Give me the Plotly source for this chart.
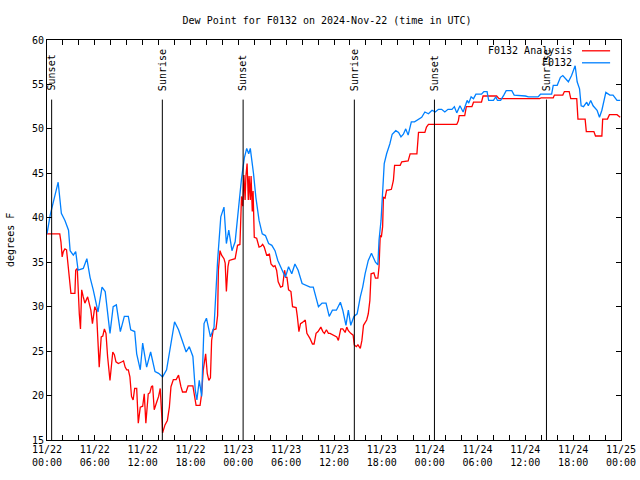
import pandas as pd
import plotly.graph_objects as go

BASE = "2024-11-22 00:00"

# Observed dew point (F0132), hours since 2024-11-22 00:00 UTC
obs_hours = [0.0, 0.4, 0.8, 1.4, 1.8, 2.25, 2.7, 2.9, 3.3, 3.6, 3.9, 4.55, 5.0, 5.4, 5.8, 6.4, 6.9, 7.3,
             7.9, 8.3, 8.7, 9.2, 9.7, 10.2, 10.5, 11.0, 11.25, 11.7, 12.0, 12.5, 13.0, 13.55, 14.0, 14.5,
             15.0, 15.5, 16.0, 16.5, 17.0, 17.45, 17.85, 18.3, 18.6, 18.8, 19.1, 19.4, 19.7, 20.0, 20.5,
             20.95, 21.4, 21.8, 22.2, 22.5, 22.8, 23.2, 23.6, 24.0, 24.4, 24.75, 25.05, 25.3, 25.5, 25.9,
             26.2, 26.6, 27.0, 27.4, 27.8, 28.2, 28.6, 28.95, 29.45, 29.9, 30.3, 30.7, 31.1, 31.5, 32.0,
             32.5, 33.0, 33.4, 33.8, 34.05, 34.5, 35.0, 35.4, 35.8, 36.3, 36.8, 37.1, 37.5, 37.8, 38.1,
             38.5, 38.9, 39.3, 39.6, 39.9, 40.3, 40.7, 41.2, 41.5, 41.65, 41.9, 42.1, 42.3, 42.6, 43.0,
             43.3, 43.75, 44.1, 44.4, 44.7, 45.0, 45.3, 45.7, 46.1, 46.6, 47.0, 47.4, 47.85, 48.3, 48.7,
             49.1, 49.5, 49.9, 50.3, 50.8, 51.1, 51.4, 51.8, 52.2, 52.7, 52.9, 53.2, 53.5, 53.8, 54.5,
             54.8, 55.2, 55.4, 56.0, 56.3, 56.5, 56.9, 57.3, 57.6, 58.3, 58.6, 60.0, 60.4, 61.6, 61.9,
             63.3, 63.5, 64.0, 64.4, 64.7, 65.1, 65.4, 65.8, 66.1, 66.25, 66.5, 66.8, 67.0, 67.3, 67.7,
             67.9, 68.2, 68.5, 69.0, 69.3, 69.6, 70.1, 70.6, 71.0, 71.5, 71.9]
obs_values = [38.2, 40.3, 41.8, 44.0, 40.5, 39.7, 38.6, 36.3, 35.8, 36.2, 34.1, 34.3, 35.4, 33.3, 31.9, 29.4,
              32.2, 31.7, 27.0, 30.0, 30.2, 27.2, 28.9, 28.9, 27.4, 27.2, 24.7, 22.9, 25.9, 23.2, 24.9,
              22.7, 22.5, 22.1, 22.9, 25.5, 28.3, 27.4, 26.2, 24.9, 25.5, 24.4, 20.6, 19.5, 21.7, 19.9,
              28.1, 28.7, 26.6, 27.7, 35.2, 40.1, 41.2, 37.1, 38.6, 36.3, 37.3, 41.0, 44.4, 46.7, 47.8,
              47.2, 47.8, 45.0, 42.3, 39.7, 38.2, 38.0, 37.1, 36.9, 36.3, 35.2, 34.1, 33.3, 34.5, 33.7,
              34.8, 34.1, 32.6, 32.4, 32.2, 32.2, 30.7, 30.0, 30.4, 30.4, 28.9, 29.6, 29.6, 30.5, 29.6,
              27.9, 29.6, 27.9, 28.9, 29.2, 31.1, 32.2, 33.7, 35.2, 36.0, 35.0, 34.7, 37.5, 39.7, 43.1,
              46.1, 47.2, 48.3, 49.4, 49.8, 49.6, 49.1, 49.4, 50.0, 49.3, 50.8, 50.8, 51.1, 51.3, 51.9,
              51.7, 52.1, 51.9, 52.2, 52.2, 51.9, 52.2, 52.2, 52.5, 51.8, 52.6, 51.9, 53.2, 52.9, 53.6,
              53.4, 53.9, 53.9, 54.2, 54.2, 53.2, 53.2, 53.6, 53.2, 53.2, 53.8, 54.3, 54.3, 53.8, 53.7,
              53.6, 53.6, 53.9, 53.9, 54.9, 54.9, 55.8, 56.0, 55.6, 55.3, 56.0, 56.8, 57.1, 55.3, 54.5,
              52.6, 52.5, 53.0, 52.6, 53.2, 52.6, 52.1, 51.3, 52.1, 54.1, 53.8, 53.8, 53.2, 53.2]

# Analysis dew point (F0132 Analysis)
ana_hours = [0.0, 1.6, 1.75, 1.9, 2.05, 2.25, 2.45, 2.6, 2.75, 2.9, 3.0, 3.5, 3.6, 3.8, 3.9, 4.05, 4.2,
             4.35, 4.55, 4.75, 5.1, 5.3, 5.5, 5.7, 6.0, 6.2, 6.45, 6.55, 6.8, 7.0, 7.2, 7.4, 7.6, 7.9,
             8.25, 8.45, 8.65, 8.95, 9.4, 9.6, 9.8, 10.0, 10.2, 10.4, 10.6, 10.8, 11.0, 11.25, 11.45,
             11.7, 12.0, 12.2, 12.4, 12.7, 12.9, 13.1, 13.25, 13.45, 13.7, 14.0, 14.2, 14.35, 14.45,
             14.5, 14.8, 15.1, 15.35, 15.55, 15.85, 16.2, 16.5, 16.8, 17.0, 17.45, 17.7, 18.3, 18.5,
             18.7, 19.2, 19.4, 19.6, 19.9, 20.1, 20.3, 20.5, 20.65, 20.85, 21.2, 21.4, 21.5, 21.7, 21.9,
             22.2, 22.35, 22.5, 22.7, 22.85, 23.6, 23.9, 24.2, 24.4, 24.55, 24.7, 24.85, 24.95, 25.1,
             25.25, 25.35, 25.5, 25.6, 25.75, 25.85, 26.0, 26.3, 26.6, 26.85, 27.05, 27.25, 27.55,
             27.9, 28.1, 28.4, 28.6, 28.8, 29.0, 29.3, 29.55, 29.8, 29.95, 30.1, 30.3, 30.6, 30.8,
             31.25, 31.4, 31.6, 31.8, 32.0, 32.4, 32.6, 33.0, 33.3, 33.5, 33.75, 34.0, 34.35, 34.6,
             34.8, 35.05, 35.3, 35.5, 35.9, 36.35, 36.55, 36.85, 37.1, 37.4, 37.6, 37.8, 38.1, 38.4,
             38.55, 38.8, 39.0, 39.3, 39.5, 39.7, 40.1, 40.3, 40.5, 40.65, 41.0, 41.2, 41.5, 41.65,
             41.8, 41.95, 42.1, 42.2, 42.4, 42.6, 42.8, 43.2, 43.45, 43.6, 44.3, 44.5, 45.3, 45.55,
             46.4, 46.6, 47.4, 47.6, 47.85, 51.4, 51.6, 51.7, 52.4, 52.6, 53.3, 53.5, 54.5, 54.7, 55.6,
             56.4, 56.7, 60.0, 61.8, 62.0, 63.5, 63.65, 64.7, 64.9, 65.5, 65.7, 66.45, 66.6, 67.5,
             67.65, 68.6, 68.8, 69.6, 69.7, 70.3, 70.55, 71.5, 71.9]
ana_values = [38.2, 38.2, 37.3, 35.6, 36.2, 36.5, 36.4, 35.2, 34.1, 32.2, 31.5, 31.5, 34.1, 34.3, 31.1,
              29.2, 27.5, 31.9, 31.1, 30.4, 31.1, 30.4, 29.6, 28.1, 30.0, 29.6, 24.7, 23.2, 26.6, 26.7,
              27.5, 27.0, 24.4, 21.7, 24.9, 24.6, 23.8, 23.6, 23.8, 23.9, 23.2, 22.9, 22.9, 22.1, 19.9,
              19.5, 20.8, 20.8, 16.9, 18.7, 18.8, 20.2, 16.9, 20.2, 20.3, 21.0, 21.1, 18.4, 19.1, 19.9,
              20.8, 19.1, 16.9, 15.8, 16.7, 17.2, 18.7, 21.0, 21.8, 21.8, 22.3, 21.0, 20.4, 20.4, 21.1,
              21.1, 20.1, 18.9, 18.9, 20.2, 22.9, 24.7, 22.5, 21.7, 22.0, 26.2, 27.4, 27.5, 29.0, 34.1,
              36.3, 35.8, 35.4, 34.9, 31.7, 34.5, 35.2, 35.4, 36.9, 37.0, 42.4, 41.3, 44.8, 42.0, 44.7,
              46.1, 42.0, 44.7, 42.0, 44.7, 40.7, 43.0, 37.8, 37.7, 36.7, 36.8, 37.0, 36.7, 35.8, 35.9,
              34.8, 34.5, 34.6, 34.1, 32.8, 32.2, 32.3, 34.1, 33.3, 33.3, 31.9, 31.7, 30.0, 29.9, 28.9,
              27.2, 28.1, 28.2, 28.5, 27.0, 26.4, 25.8, 25.8, 27.0, 27.2, 27.7, 27.2, 27.0, 27.4, 27.0,
              27.0, 26.8, 26.6, 26.2, 27.5, 27.5, 27.1, 27.7, 27.3, 27.0, 26.8, 25.7, 25.5, 25.7, 25.3,
              26.2, 27.9, 28.5, 29.2, 30.7, 33.7, 33.8, 33.2, 33.2, 34.5, 38.0, 37.9, 39.0, 42.3, 42.2,
              43.1, 43.1, 43.2, 44.2, 45.9, 45.9, 46.3, 46.4, 47.2, 47.2, 49.6, 49.6, 50.2, 50.5, 50.5,
              50.9, 51.5, 51.5, 52.5, 52.5, 53.0, 53.0, 53.7, 53.7, 53.7, 53.4, 53.4, 53.4, 53.5, 53.5,
              53.8, 53.8, 54.2, 54.2, 53.4, 53.4, 51.1, 51.1, 49.7, 49.7, 49.2, 49.2, 51.1, 51.1, 51.6,
              51.6, 51.3]

# Sunrise / sunset events (UTC)
event_times = ["2024-11-22 00:35", "2024-11-22 14:28", "2024-11-23 00:36",
               "2024-11-23 14:33", "2024-11-24 00:36", "2024-11-24 14:39"]
event_labels = ["Sunset", "Sunrise", "Sunset", "Sunrise", "Sunset", "Sunrise"]

# x ticks every 2 h, labelled every 6 h
x_tick_hours = list(range(0, 73, 2))
y_ticks = [15, 20, 25, 30, 35, 40, 45, 50, 55, 60]

base = pd.Timestamp(BASE)
obs_t = base + pd.to_timedelta(obs_hours, unit="h")
ana_t = base + pd.to_timedelta(ana_hours, unit="h")
x_tickvals = [base + pd.Timedelta(hours=h) for h in x_tick_hours]
x_ticktext = [(t.strftime("%m/%d<br>%H:%M") if h % 6 == 0 else "") for h, t in zip(x_tick_hours, x_tickvals)]

FONT = "DejaVu Sans Mono"
RED = "#ff0000"
BLUE = "#0080ff"

fig = go.Figure()
fig.add_trace(go.Scatter(x=ana_t, y=ana_values, mode="lines", name="F0132 Analysis",
                         line=dict(color=RED, width=1.3)))
fig.add_trace(go.Scatter(x=obs_t, y=obs_values, mode="lines", name="F0132",
                         line=dict(color=BLUE, width=1.3)))

shapes = []
annotations = []
for t, lab in zip(event_times, event_labels):
    shapes.append(dict(type="line", xref="x", yref="paper", x0=t, x1=t, y0=0, y1=0.851,
                       line=dict(color="black", width=1)))
    annotations.append(dict(x=t, y=0.868, xref="x", yref="paper", text=lab, showarrow=False,
                            textangle=-90, xanchor="center", yanchor="bottom",
                            font=dict(family=FONT, size=10, color="black")))

# legend (gnuplot-style, top right inside)
leg_rows = [("F0132 Analysis", RED, 0.973), ("F0132", BLUE, 0.943)]
for text, col, yy in leg_rows:
    annotations.append(dict(x=0.918, y=yy, xref="paper", yref="paper", text=text, showarrow=False,
                            xanchor="right", yanchor="middle",
                            font=dict(family=FONT, size=10, color="black")))
    shapes.append(dict(type="line", xref="paper", yref="paper", x0=0.932, x1=0.981, y0=yy, y1=yy,
                       line=dict(color=col, width=1.3)))

annotations.append(dict(x=-0.0645, y=0.5, xref="paper", yref="paper", text="degrees F",
                        showarrow=False, textangle=-90, xanchor="center", yanchor="middle",
                        font=dict(family=FONT, size=10, color="black")))

fig.update_layout(
    width=640, height=480,
    margin=dict(l=47, r=19, t=40, b=40, autoexpand=False),
    paper_bgcolor="white", plot_bgcolor="white",
    showlegend=False,
    font=dict(family=FONT, size=10, color="black"),
    title=dict(text="Dew Point for F0132 on 2024-Nov-22 (time in UTC)", x=0.511, xref="container",
               xanchor="center", y=0.958, yanchor="middle", yref="container",
               font=dict(family=FONT, size=10, color="black")),
    shapes=shapes, annotations=annotations,
)
fig.update_xaxes(
    range=[base, base + pd.Timedelta(hours=72)],
    tickmode="array", tickvals=x_tickvals, ticktext=x_ticktext,
    ticks="inside", ticklen=5, tickcolor="black", tickwidth=1,
    showline=True, linecolor="black", linewidth=1, mirror="allticks",
    showgrid=False, zeroline=False, automargin=False,
    tickfont=dict(family=FONT, size=10, color="black"),
)
fig.update_yaxes(
    range=[15, 60], tickmode="array", tickvals=y_ticks, ticktext=[str(v) for v in y_ticks],
    ticks="inside", ticklen=5, tickcolor="black", tickwidth=1,
    showline=True, linecolor="black", linewidth=1, mirror="allticks",
    showgrid=False, zeroline=False, automargin=False,
    tickfont=dict(family=FONT, size=10, color="black"),
)

fig.write_html("out.html", config={"displayModeBar": False},
               post_script="document.body.style.margin='0';document.body.style.overflow='hidden';")
